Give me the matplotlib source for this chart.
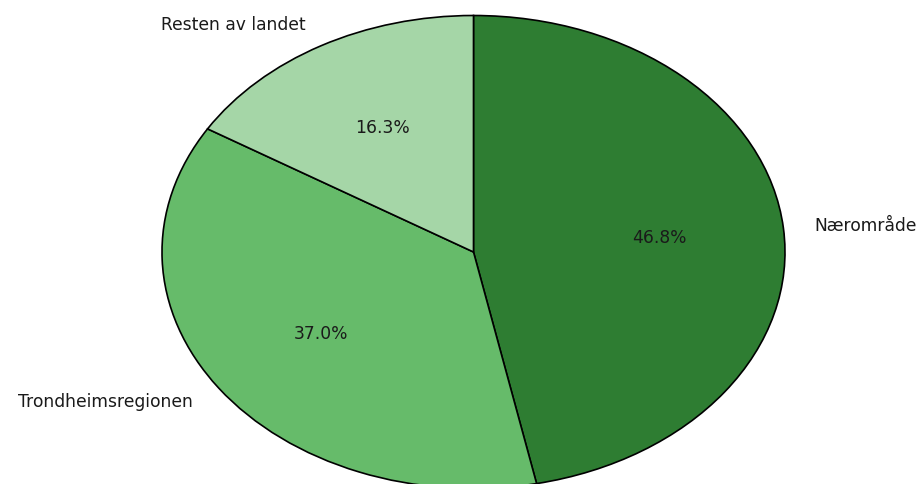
import matplotlib
matplotlib.use("Agg")
import matplotlib.pyplot as plt

plt.rcParams["font.family"] = ["DejaVu Sans"]

categories = ["Nærområde", "Trondheimsregionen", "Resten av landet"]
values = [46.8, 37.0, 16.3]
colors = ["#2e7d32", "#66bb6a", "#a5d6a7"]

W, H = 924, 484
fig = plt.figure(figsize=(W / 100, H / 100), dpi=100)
ax = fig.add_axes([0, 0, 1, 1])

cx, cy = 473.5, 252.0   # pixel centre (from top)
rx, ry = 311.5, 236.5   # pixel radii

ax.pie(values, labels=categories, colors=colors, startangle=90, counterclock=False,
       autopct="%1.1f%%", pctdistance=0.6, labeldistance=1.1,
       wedgeprops=dict(edgecolor="black", linewidth=1.2),
       textprops=dict(fontsize=12.3, color="#1a1a1a"))
ax.set_aspect("auto")
ax.set_xlim(-cx / rx, (W - cx) / rx)
ax.set_ylim(-(H - cy) / ry, cy / ry)
ax.axis("off")
fig.savefig("out.png", dpi=100)
